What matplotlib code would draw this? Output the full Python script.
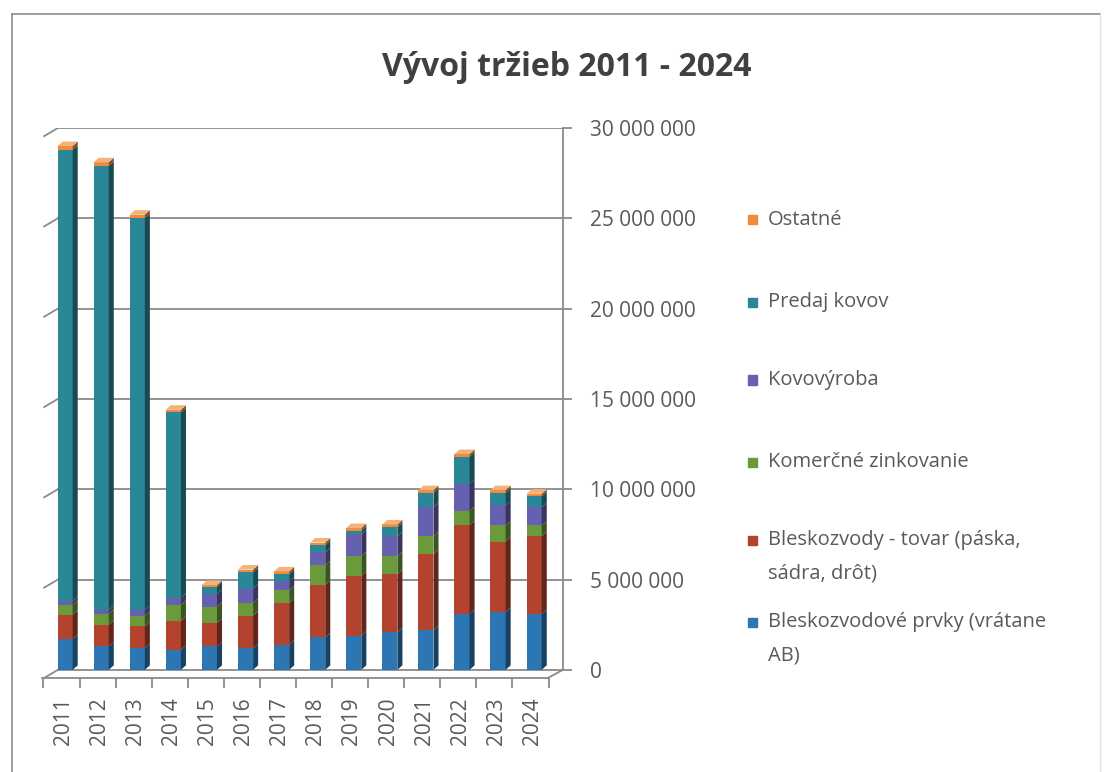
import matplotlib.pyplot as plt
import matplotlib.colors as mcolors
from matplotlib.lines import Line2D
from matplotlib.patches import Rectangle
from matplotlib.ticker import FuncFormatter
import numpy as np

roky = ["2011", "2012", "2013", "2014", "2015", "2016", "2017",
        "2018", "2019", "2020", "2021", "2022", "2023", "2024"]

# trzby v mil. EUR, od spodku stlpca nahor
bleskozvodove_prvky = [1.7, 1.3, 1.2, 1.1, 1.3, 1.2, 1.4, 1.8, 1.9, 2.1, 2.2, 3.1, 3.2, 3.1]
bleskozvody_tovar = [1.35, 1.2, 1.2, 1.6, 1.3, 1.8, 2.3, 2.9, 3.3, 3.2, 4.2, 4.9, 3.9, 4.3]
zinkovanie = [0.55, 0.6, 0.6, 0.9, 0.9, 0.7, 0.7, 1.1, 1.1, 1.0, 1.0, 0.8, 0.9, 0.6]
kovovyroba = [0.2, 0.2, 0.3, 0.4, 0.7, 0.8, 0.5, 0.7, 1.2, 1.1, 1.6, 1.5, 1.1, 1.0]
predaj_kovov = [25.0, 24.6, 21.7, 10.25, 0.4, 0.9, 0.4, 0.4, 0.2, 0.5, 0.8, 1.5, 0.7, 0.6]
ostatne = [0.2, 0.2, 0.2, 0.15, 0.1, 0.15, 0.15, 0.15, 0.15, 0.15, 0.15, 0.15, 0.15, 0.15]

nazvy = ["Bleskozvodové prvky (vrátane\nAB)",
         "Bleskozvody - tovar (páska,\nsádra, drôt)",
         "Komerčné zinkovanie",
         "Kovovýroba",
         "Predaj kovov",
         "Ostatné"]
hodnoty = [bleskozvodove_prvky, bleskozvody_tovar, zinkovanie, kovovyroba, predaj_kovov, ostatne]
farby = ["#2b76b3", "#b3432e", "#6a9a3a", "#6560b0", "#2a8797", "#ee8c3c"]

plt.rcParams["font.family"] = ["Open Sans", "DejaVu Sans"]

M = 1e6


def tmavsia(c, f=0.55):
    r, g, b = mcolors.to_rgb(c)
    return (r * f, g * f, b * f)


fig = plt.figure(figsize=(11.05, 7.72), dpi=100)
ax = fig.add_axes([0.038, 0.1218, 0.4715, 0.7124])

x = np.arange(len(roky))
sirka = 0.42
dx, dy = 0.14, 0.25 * M
podlaha = -0.45 * M

# zadna stena - mriezka s kratkym sikmym kusom vlavo
for v in range(0, 30_000_001, 5_000_000):
    ax.plot([-0.2, 13.8], [v, v], color="#8a8a8a", lw=1.3, zorder=1)
    ax.plot([-0.58, -0.2], [v + podlaha, v], color="#8a8a8a", lw=1.3, zorder=1)

# predny okraj podlahy a ciarky medzi rokmi
ax.plot([-0.64, 13.38], [podlaha, podlaha], color="#8a8a8a", lw=1.3, clip_on=False)
ax.plot([13.38, 13.8], [podlaha, 0], color="#8a8a8a", lw=1.3, clip_on=False)
ax.vlines(np.arange(len(roky) + 1) - 0.6, podlaha - 0.55 * M, podlaha,
          color="#8a8a8a", lw=1.3, clip_on=False)

spodok = np.zeros(len(roky))
for vals, farba in zip(hodnoty, farby):
    v = np.array(vals) * M
    ax.bar(x, v, sirka, bottom=spodok, color=farba, zorder=3)
    for xi, b, h in zip(x, spodok, v):
        xr = xi + sirka / 2
        ax.fill([xr, xr + dx, xr + dx, xr], [b, b + dy, b + h + dy, b + h],
                color=tmavsia(farba), zorder=3, lw=0)
    spodok = spodok + v

# vrchna plocha stlpcov
for xi, t in zip(x, spodok):
    xl = xi - sirka / 2
    ax.fill([xl, xl + sirka, xl + sirka + dx, xl + dx], [t, t, t + dy, t + dy],
            color="#f4b27a", zorder=4, lw=0, clip_on=False)

ax.set_xlim(-0.64, 13.8)
ax.set_ylim(podlaha, 30 * M)
for s in ["top", "left", "bottom"]:
    ax.spines[s].set_visible(False)
ax.spines["right"].set_bounds(0, 30 * M)
ax.spines["right"].set_color("#8a8a8a")
ax.spines["right"].set_linewidth(1.3)

ax.yaxis.tick_right()
ax.set_yticks(range(0, 30_000_001, 5_000_000))
ax.yaxis.set_major_formatter(FuncFormatter(lambda v, p: f"{int(v):,}".replace(",", " ")))
ax.tick_params(axis="y", length=6.5, width=1.3, color="#8a8a8a",
               labelsize=15, labelcolor="#5a5a5a", pad=13)

ax.set_xticks(x - 0.05, roky, rotation=90)
ax.tick_params(axis="x", length=0, labelsize=15, labelcolor="#5a5a5a", pad=14)

fig.text(0.513, 0.912, "Vývoj tržieb 2011 - 2024", ha="center", va="center",
         fontsize=23, fontweight="bold", color="#404040")

# legenda, zhora nadol
legenda_y = [220, 302, 380, 462, 540, 622]
for nazov, farba, yp in zip(nazvy[::-1], farby[::-1], legenda_y):
    fig.add_artist(Rectangle((748 / 1105, 1 - (yp + 4.5) / 772), 9 / 1105, 9 / 772,
                             transform=fig.transFigure, color=farba))
    for i, riadok in enumerate(nazov.split("\n")):
        fig.text(768 / 1105, 1 - (yp + 33 * i) / 772, riadok, ha="left", va="center",
                 fontsize=14.5, color="#5a5a5a")

# ramik okolo grafu
fig.add_artist(Line2D([12 / 1105, 12 / 1105], [0, 1 - 14 / 772], color="#8c8c8c",
                      lw=1.2, transform=fig.transFigure))
fig.add_artist(Line2D([12 / 1105, 1100 / 1105], [1 - 14 / 772, 1 - 14 / 772],
                      color="#8c8c8c", lw=1.2, transform=fig.transFigure))
fig.add_artist(Line2D([1100 / 1105, 1100 / 1105], [0, 1 - 14 / 772], color="#e0e0e0",
                      lw=1.0, transform=fig.transFigure))

fig.savefig("out.png", dpi=100)
